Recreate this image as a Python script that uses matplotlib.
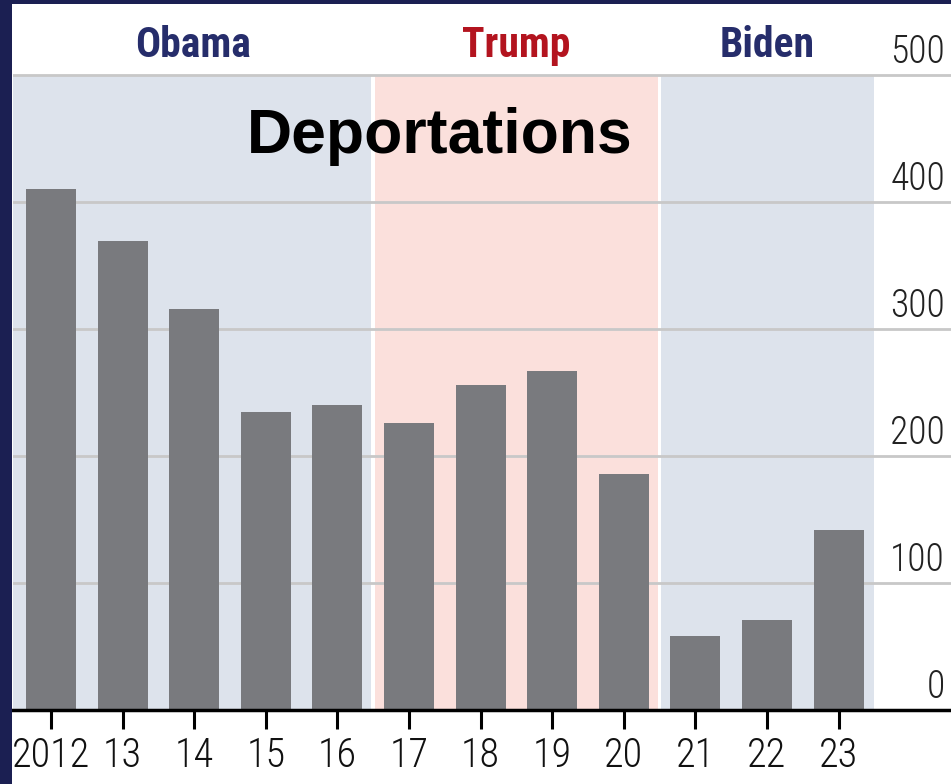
import matplotlib
matplotlib.use("Agg")
import matplotlib.pyplot as plt
from matplotlib.patches import Rectangle
from matplotlib.transforms import ScaledTranslation, blended_transform_factory
from matplotlib import font_manager

years = ["2012", "13", "14", "15", "16", "17", "18", "19", "20", "21", "22", "23"]
deportations = [410, 369, 316, 235, 240, 226, 256, 267, 186, 58, 71, 142]
presidents = ["Obama", "Trump", "Biden"]
terms = [(-0.531, 4.5), (4.5, 8.5), (8.5, 11.5)]
yticks = [0, 100, 200, 300, 400, 500]

names = {f.name for f in font_manager.fontManager.ttflist}
cond = [f for f in ["Liberation Sans Narrow", "Roboto Condensed", "Open Sans"] if f in names] or ["DejaVu Sans"]

W, H = 951, 784
fig = plt.figure(figsize=(W / 100, H / 100), dpi=100)
fig.patch.set_facecolor("white")
ax = fig.add_axes([13 / W, 74 / H, 938 / W, 706 / H])
ax.set_xlim(-0.531, 12.57)
ax.set_ylim(0, 556)
ax.set_facecolor("white")

shade = ["#dde3ec", "#fbe0dc", "#dde3ec"]
tcol = ["#262d6b", "#b3141f", "#262d6b"]
for i, ((x0, x1), name) in enumerate(zip(terms, presidents)):
    g0 = 0.025 if i > 0 else 0
    g1 = 0.025 if i < 2 else 0
    ax.add_patch(Rectangle((x0 + g0, 0), (x1 - x0) - g0 - g1, 500, facecolor=shade[i],
                           edgecolor="none", zorder=0))
    ax.text((x0 + x1) / 2, 523, name, ha="center", va="center", color=tcol[i],
            fontsize=30, fontweight="semibold", family=cond, zorder=5)

for v in yticks[1:]:
    ax.axhline(v, color="#c8c8c8", lw=2, zorder=1)

ax.bar(range(len(years)), deportations, width=0.7, color="#797a7e", zorder=2)

ax.spines[["left", "right", "top"]].set_visible(False)
ax.spines["bottom"].set_linewidth(2.5)
ax.spines["bottom"].set_color("black")
ax.set_xticks(range(len(years)))
ax.set_xticklabels(years, fontsize=29, family=cond, fontweight="light", color="#111111")
ax.tick_params(axis="x", length=14, width=2.2, pad=5, color="black")
ax.set_yticks([])

tr = blended_transform_factory(ax.transAxes, ax.transData) + ScaledTranslation(-6 / 100, 4 / 100, fig.dpi_scale_trans)
for v in yticks:
    ax.text(1.0, v, str(v), transform=tr, ha="right", va="bottom", fontsize=27,
            family=cond, fontweight="light", color="#222222", zorder=5)

ax.text(5.43, 439, "Deportations", ha="center", va="baseline", fontsize=45,
        fontweight="bold", family=["Liberation Sans", "DejaVu Sans"], color="black", zorder=6)

# navy frame edges
fig.patches.append(Rectangle((0, 0), 12 / W, 1, transform=fig.transFigure, facecolor="#1b1f52",
                             edgecolor="none", zorder=10))
fig.patches.append(Rectangle((0, 1 - 4 / H), 1, 4 / H, transform=fig.transFigure, facecolor="#1b1f52",
                             edgecolor="none", zorder=10))

fig.savefig("out.png", dpi=100)
